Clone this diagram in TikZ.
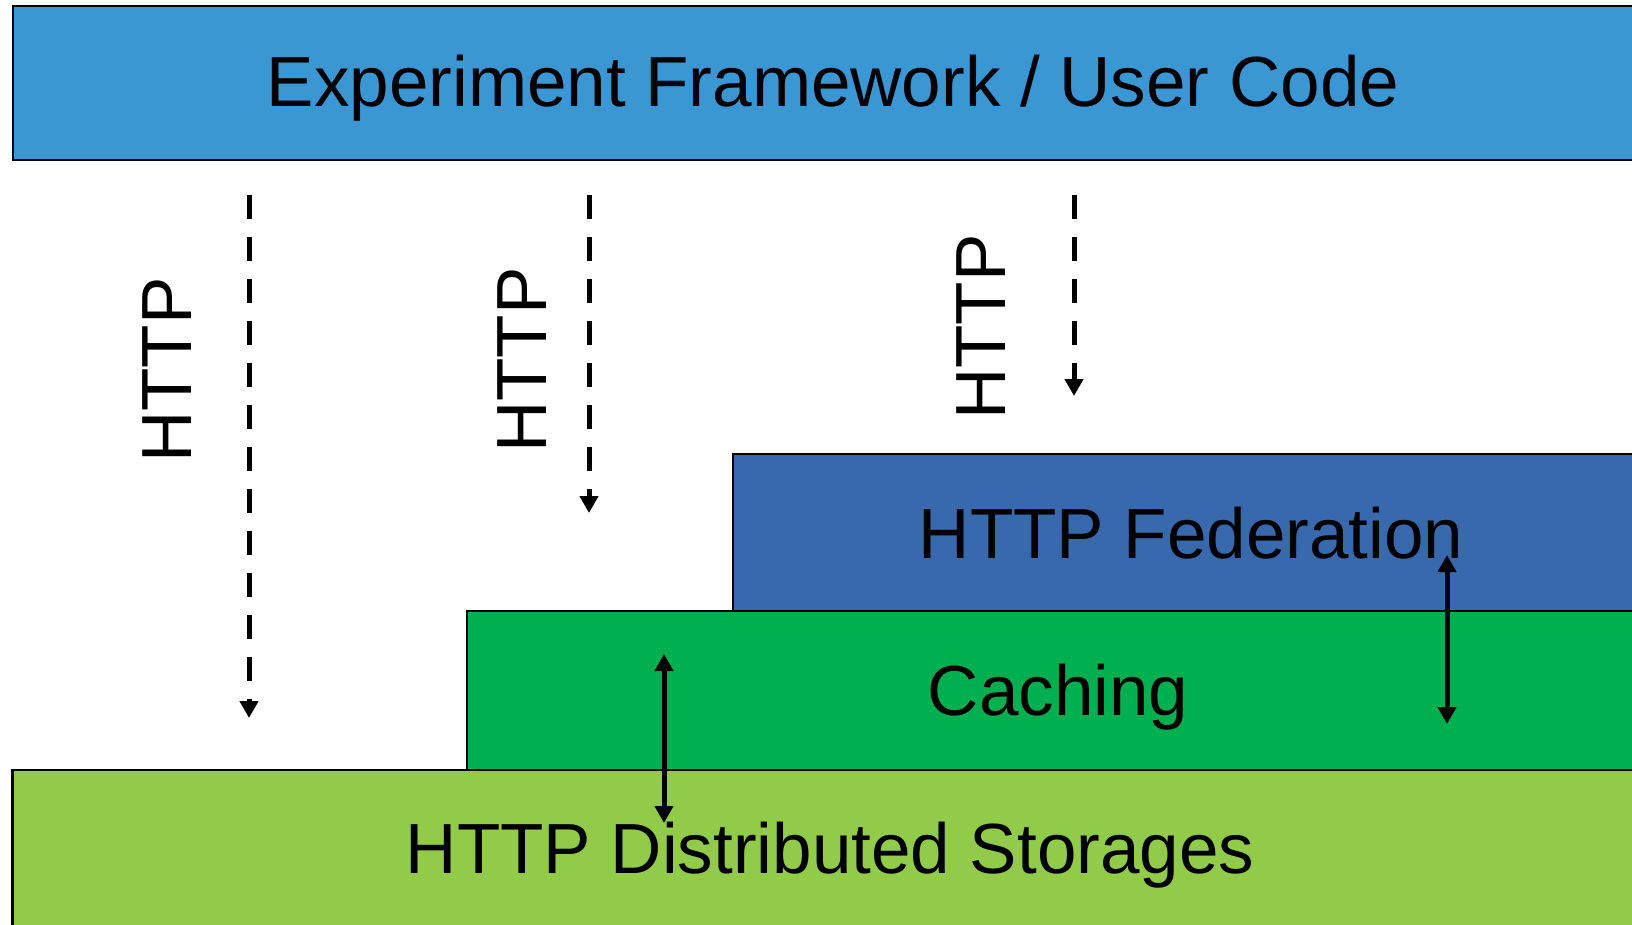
\documentclass[tikz,border=0pt]{standalone}
\usepackage{fontspec}
\setmainfont{Liberation Sans}
\usetikzlibrary{arrows.meta}
\definecolor{fwblue}{HTML}{3A97D3}
\definecolor{fedblue}{HTML}{3869AC}
\definecolor{cachegreen}{HTML}{00AF4F}
\definecolor{storegreen}{HTML}{92CA4A}
\tikzset{
  layer/.style={draw=black, line width=2.5pt},
  lbl/.style={inner sep=0pt, font=\fontsize{71}{80}\selectfont},
  dasharrow/.style={line width=5pt, dash pattern=on 24pt off 18pt, -{Triangle[width=18pt,length=17pt]}},
  dblarrow/.style={line width=5pt, {Triangle[width=18pt,length=17pt]}-{Triangle[width=18pt,length=17pt]}}
}
\begin{document}
\begin{tikzpicture}[x=1pt,y=-1pt]
\useasboundingbox (0,0) rectangle (1632,924);
\clip (0,0) rectangle (1632,924);
% layers
\draw[layer, fill=fwblue] (13,6) rectangle (1660,160);
\draw[layer, fill=storegreen] (12.5,770) rectangle (1660,940);
\draw[layer, fill=fedblue] (733,454) rectangle (1660,611);
\draw[layer, fill=cachegreen] (467,611) rectangle (1660,770);
% texts
\node[lbl] (fw) at (833,88) {Experiment Framework / User Code};
\node[lbl] (fed) at (1191,533) {HTTP Federation};
\node[lbl] (cache) at (1058,697) {Caching};
\node[lbl] (store) at (830,855) {HTTP Distributed Storages};
\node[lbl, rotate=90] (h1) at (167,370) {HTTP};
\node[lbl, rotate=90] (h2) at (522,360) {HTTP};
\node[lbl, rotate=90] (h3) at (981,327) {HTTP};
% arrow endpoints
\coordinate (a1s) at (249,195); \coordinate (a1e) at (249,718);
\coordinate (a2s) at (589,195); \coordinate (a2e) at (589,513);
\coordinate (a3s) at (1074,195); \coordinate (a3e) at (1074,396);
\coordinate (b1s) at (664,654); \coordinate (b1e) at (664,823);
\coordinate (b2s) at (1447,555); \coordinate (b2e) at (1447,724);
\draw[dasharrow] (a1s) -- (a1e);
\draw[dasharrow] (a2s) -- (a2e);
\draw[dasharrow] (a3s) -- (a3e);
\draw[dblarrow] (b1s) -- (b1e);
\draw[dblarrow] (b2s) -- (b2e);
\end{tikzpicture}
\end{document}
